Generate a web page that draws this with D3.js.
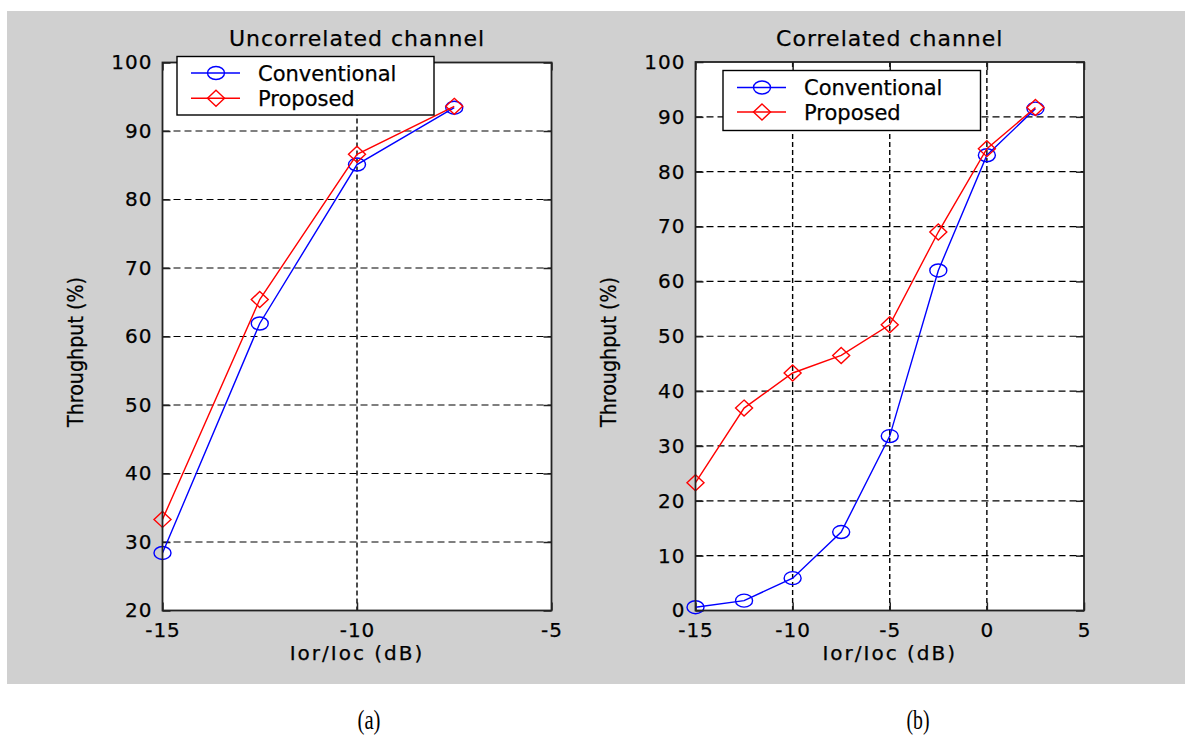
<!DOCTYPE html>
<html>
<head>
<meta charset="utf-8">
<script src="https://cdn.jsdelivr.net/npm/d3@7"></script>
<style>
  html, body { margin: 0; padding: 0; background: #fff; }
  svg { display: block; }
  .tick text { font-family: "DejaVu Sans", sans-serif; font-size: 20px; letter-spacing: 1px; fill: #000; stroke: #000; stroke-width: 0.25px; }
</style>
</head>
<body>
<svg id="chart" width="1185" height="742"></svg>
<script>
  // ---- Data ----
  const snrA = [-15, -12.5, -10, -7.5];
  const convA = [28.4, 61.9, 85.1, 93.4];
  const propA = [33.3, 65.4, 86.6, 93.6];

  const snrB = [-15, -12.5, -10, -7.5, -5, -2.5, 0, 2.5];
  const convB = [0.6, 1.8, 5.9, 14.3, 31.8, 62.0, 83.0, 91.5];
  const propB = [23.3, 36.9, 43.3, 46.5, 52.1, 69.0, 84.2, 91.7];

  const xTicksA = [-15, -10, -5];
  const yTicksA = [20, 30, 40, 50, 60, 70, 80, 90, 100];
  const xTicksB = [-15, -10, -5, 0, 5];
  const yTicksB = [0, 10, 20, 30, 40, 50, 60, 70, 80, 90, 100];

  const seriesNames = ["Conventional", "Proposed"];
  const titles = ["Uncorrelated channel", "Correlated channel"];
  const captions = ["(a)", "(b)"];

  const BLUE = "#0000ff", RED = "#ff0000";
  const svg = d3.select("#chart");

  // grey figure background
  svg.append("rect")
    .attr("x", 7).attr("y", 11)
    .attr("width", 1178).attr("height", 673)
    .attr("fill", "#d0d0d0");

  function diamondPath(x, y) {
    return `M${x},${y - 8}L${x + 8.5},${y}L${x},${y + 8}L${x - 8.5},${y}Z`;
  }

  function drawMarker(g, kind, x, y, color) {
    if (kind === "circle") {
      g.append("ellipse")
        .attr("cx", x).attr("cy", y).attr("rx", 8.5).attr("ry", 6.5)
        .attr("fill", "none").attr("stroke", color).attr("stroke-width", 1.4);
    } else {
      g.append("path")
        .attr("d", diamondPath(x, y))
        .attr("fill", "none").attr("stroke", color).attr("stroke-width", 1.4);
    }
  }

  function label(g) {
    return g.append("text")
      .attr("font-family", "DejaVu Sans, sans-serif")
      .attr("fill", "#000").attr("stroke", "#000").attr("stroke-width", 0.25);
  }

  function drawPanel(p) {
    const { left, right, top, bottom } = p.box;
    const x = d3.scaleLinear().domain(p.xDomain).range([left, right]);
    const y = d3.scaleLinear().domain(p.yDomain).range([bottom, top]);
    const g = svg.append("g");

    // plot area
    g.append("rect")
      .attr("x", left).attr("y", top)
      .attr("width", right - left).attr("height", bottom - top)
      .attr("fill", "#fff");

    // grid
    g.append("g").selectAll("line")
      .data(p.yTicks.filter((d) => d > p.yDomain[0] && d < p.yDomain[1]))
      .join("line")
      .attr("x1", left).attr("x2", right)
      .attr("y1", (d) => y(d)).attr("y2", (d) => y(d))
      .attr("stroke", "#000").attr("stroke-width", 1.2)
      .attr("stroke-dasharray", "7,4");
    g.append("g").selectAll("line")
      .data(p.xTicks.filter((d) => d > p.xDomain[0] && d < p.xDomain[1]))
      .join("line")
      .attr("y1", top).attr("y2", bottom)
      .attr("x1", (d) => x(d)).attr("x2", (d) => x(d))
      .attr("stroke", "#000").attr("stroke-width", 1.4)
      .attr("stroke-dasharray", "5,3");

    // axes (ticks pointing inward, mirrored on top/right)
    const ax = [
      [d3.axisBottom(x).tickValues(p.xTicks).tickFormat(d3.format("d")).tickPadding(12), `translate(0,${bottom})`],
      [d3.axisTop(x).tickValues(p.xTicks).tickFormat(""), `translate(0,${top})`],
      [d3.axisLeft(y).tickValues(p.yTicks).tickFormat(d3.format("d")).tickPadding(10), `translate(${left},0)`],
      [d3.axisRight(y).tickValues(p.yTicks).tickFormat(""), `translate(${right},0)`],
    ];
    ax.forEach(([axis, tr]) => {
      const a = g.append("g").attr("transform", tr)
        .call(axis.tickSizeInner(-8).tickSizeOuter(0));
      a.select(".domain").remove();
      a.selectAll(".tick line").attr("stroke", "#222").attr("stroke-width", 1.5);
    });
    g.selectAll(".tick text").text(function () {
      return d3.select(this).text().replace("−", "-");
    });

    // series
    const line = d3.line().x((d) => x(d[0])).y((d) => y(d[1]));
    p.series.forEach((s) => {
      const pts = p.xs.map((v, i) => [v, s.values[i]]);
      g.append("path")
        .datum(pts)
        .attr("d", line)
        .attr("fill", "none").attr("stroke", s.color).attr("stroke-width", 1.4);
      const mg = g.append("g");
      pts.forEach((d) => drawMarker(mg, s.marker, x(d[0]), y(d[1]), s.color));
    });

    // frame
    g.append("rect")
      .attr("x", left).attr("y", top)
      .attr("width", right - left).attr("height", bottom - top)
      .attr("fill", "none").attr("stroke", "#222").attr("stroke-width", 1.8);

    // legend
    const L = p.legend;
    const lg = g.append("g");
    lg.append("rect")
      .attr("x", L.x).attr("y", L.y).attr("width", L.w).attr("height", L.h)
      .attr("fill", "#fff").attr("stroke", "#000").attr("stroke-width", 1.4);
    p.series.forEach((s, i) => {
      const cy = L.rows[i];
      lg.append("line")
        .attr("x1", L.x + 14).attr("x2", L.x + 63)
        .attr("y1", cy).attr("y2", cy)
        .attr("stroke", s.color).attr("stroke-width", 1.4);
      drawMarker(lg, s.marker, L.x + 39, cy, s.color);
      label(lg)
        .attr("x", L.x + 81).attr("y", cy + 7.5)
        .attr("font-size", 21)
        .text(s.name);
    });

    // title and axis labels
    label(g)
      .attr("x", (left + right) / 2).attr("y", 46)
      .attr("text-anchor", "middle")
      .attr("font-size", 22).attr("letter-spacing", 1)
      .text(p.title);
    label(g)
      .attr("x", (left + right) / 2).attr("y", 660)
      .attr("text-anchor", "middle")
      .attr("font-size", 20).attr("letter-spacing", 2)
      .text("Ior/Ioc (dB)");
    label(g)
      .attr("transform", `translate(${p.yLabelX},352) rotate(-90)`)
      .attr("text-anchor", "middle")
      .attr("font-size", 21)
      .attr("textLength", 150).attr("lengthAdjust", "spacingAndGlyphs")
      .text("Throughput (%)");

    // caption under the figure
    svg.append("text")
      .attr("x", p.captionX).attr("y", 729)
      .attr("text-anchor", "middle")
      .attr("font-family", "Liberation Serif, serif")
      .attr("font-size", 27).attr("fill", "#000")
      .attr("textLength", 23).attr("lengthAdjust", "spacingAndGlyphs")
      .text(p.caption);
  }

  drawPanel({
    box: { left: 162.5, right: 551.5, top: 62.5, bottom: 610.5 },
    xDomain: [-15, -5], yDomain: [20, 100],
    xTicks: xTicksA, yTicks: yTicksA,
    xs: snrA,
    series: [
      { name: seriesNames[0], values: convA, color: BLUE, marker: "circle" },
      { name: seriesNames[1], values: propA, color: RED, marker: "diamond" },
    ],
    legend: { x: 177, y: 56.5, w: 257, h: 58.5, rows: [73, 98.3] },
    title: titles[0],
    yLabelX: 83,
    caption: captions[0], captionX: 369,
  });

  drawPanel({
    box: { left: 695.5, right: 1084, top: 62, bottom: 610.5 },
    xDomain: [-15, 5], yDomain: [0, 100],
    xTicks: xTicksB, yTicks: yTicksB,
    xs: snrB,
    series: [
      { name: seriesNames[0], values: convB, color: BLUE, marker: "circle" },
      { name: seriesNames[1], values: propB, color: RED, marker: "diamond" },
    ],
    legend: { x: 723, y: 70.5, w: 257.5, h: 60, rows: [87.5, 112] },
    title: titles[1],
    yLabelX: 616,
    caption: captions[1], captionX: 918,
  });
</script>
</body>
</html>
